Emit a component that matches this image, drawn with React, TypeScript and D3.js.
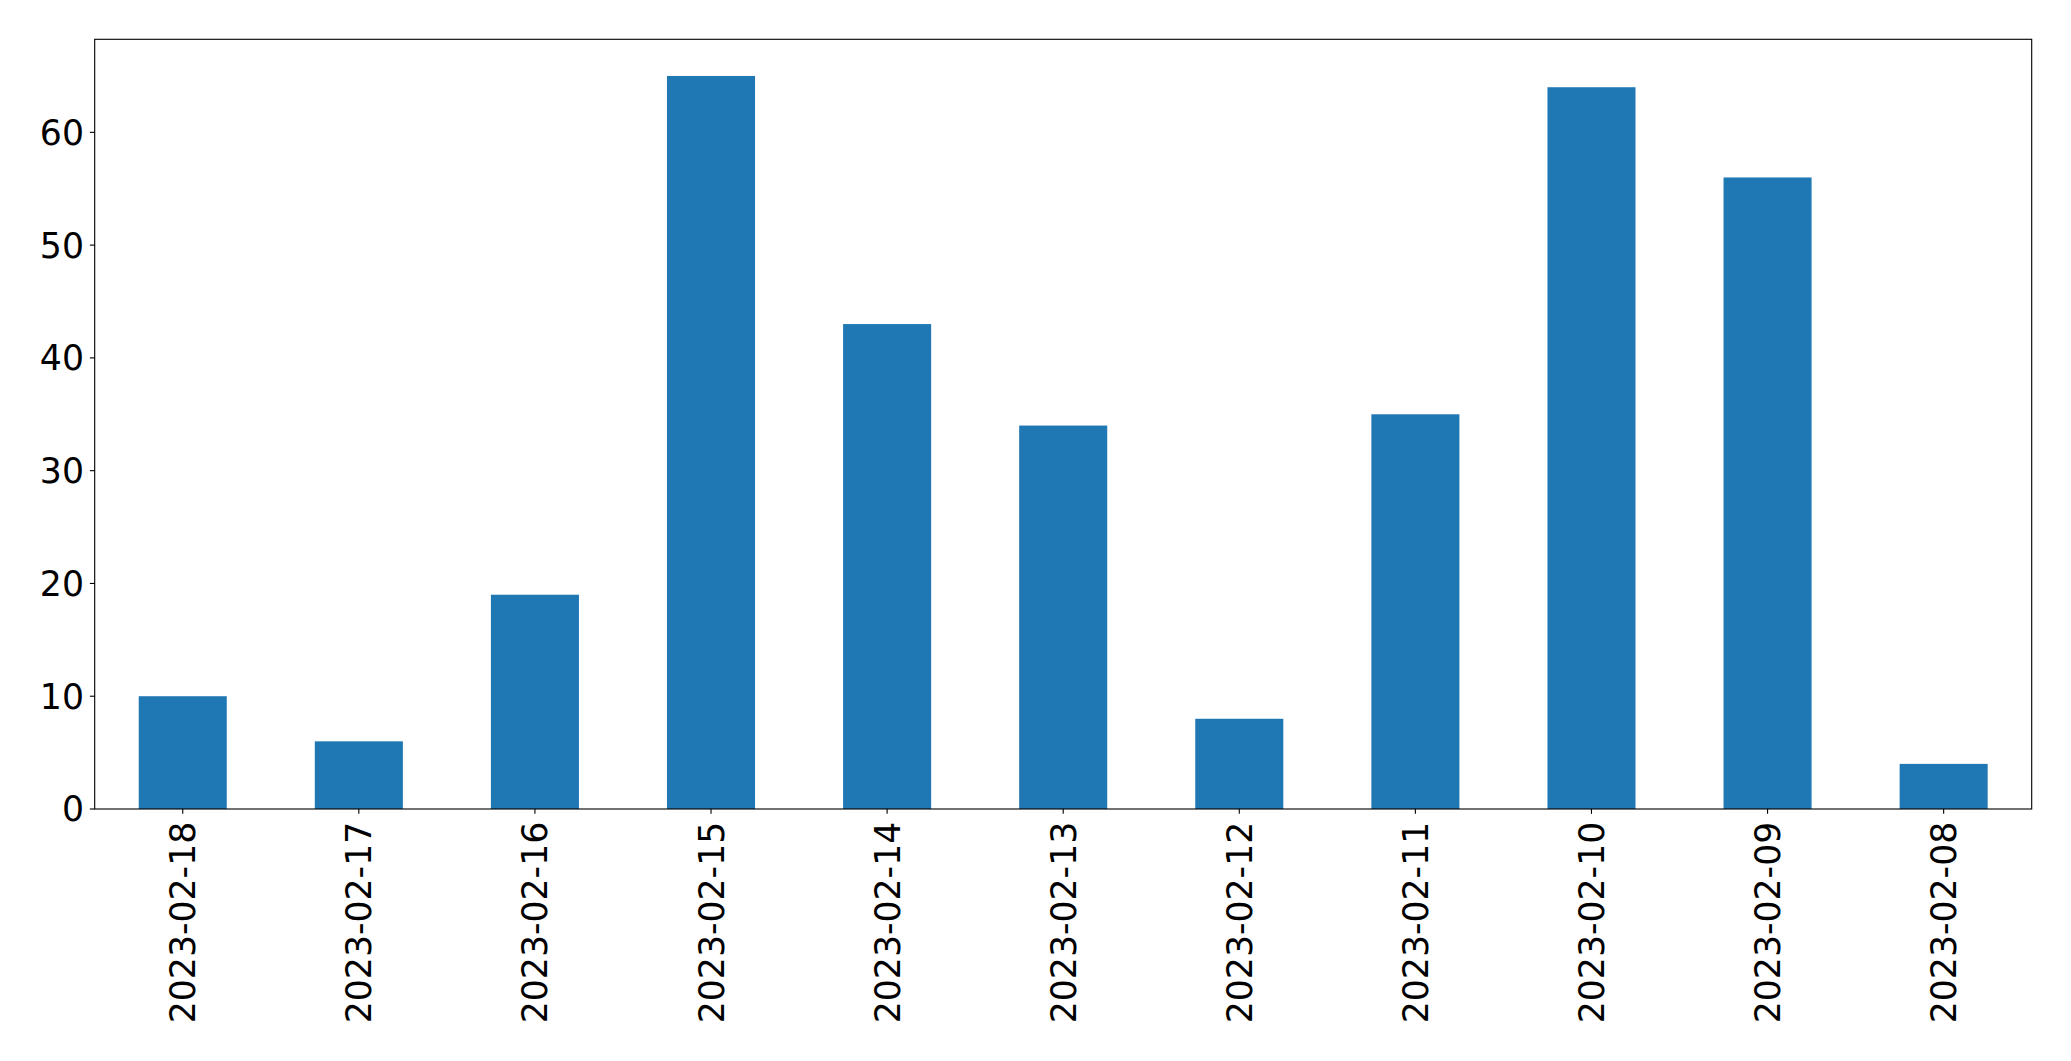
import React from "react";
import * as d3 from "d3";

const categories = ["2023-02-18","2023-02-17","2023-02-16","2023-02-15","2023-02-14","2023-02-13","2023-02-12","2023-02-11","2023-02-10","2023-02-09","2023-02-08"];
const values = [10, 6, 19, 65, 43, 34, 8, 35, 64, 56, 4];
const yTicks = [0, 10, 20, 30, 40, 50, 60];

const W = 2071, H = 1061;
const L = 94.7, R = 2031.7, T = 39.3, B = 809;
const FS = 34.7;
const TICK = 4.86;
const PAD = 4.86;
const LW = 1.11;

export default function App() {
  const x = d3.scaleLinear().domain([-0.5, categories.length - 0.5]).range([L, R]);
  const y = d3.scaleLinear().domain([0, d3.max(values)! * 1.05]).range([B, T]);
  const bw = x(0.25) - x(-0.25);
  return (
    <div style={{ position: "absolute", left: 0, top: 0 }}>
      <svg width={W} height={H} style={{ display: "block", fontFamily: "'DejaVu Sans', sans-serif" }}>
        <rect x={0} y={0} width={W} height={H} fill="#fff" />
        {values.map((v, i) => (
          <rect key={i} x={x(i) - bw / 2} y={y(v)} width={bw} height={y(0) - y(v)} fill="#1f77b4" />
        ))}
        <rect x={L} y={T} width={R - L} height={B - T} fill="none" stroke="#000" strokeWidth={LW} />
        {yTicks.map((t) => (
          <g key={t}>
            <line x1={L - TICK} x2={L} y1={y(t)} y2={y(t)} stroke="#000" strokeWidth={LW} />
            <text x={L - TICK - PAD - 1} y={y(t)} dy="0.36em" textAnchor="end" fontSize={FS} fill="#000">{t}</text>
          </g>
        ))}
        {categories.map((c, i) => (
          <g key={c}>
            <line x1={x(i)} x2={x(i)} y1={B} y2={B + TICK} stroke="#000" strokeWidth={LW} />
            <text transform={`translate(${x(i)},${B + TICK + PAD + 3}) rotate(-90)`} textAnchor="end" dy="0.36em" fontSize={FS} fill="#000">{c}</text>
          </g>
        ))}
      </svg>
    </div>
  );
}
